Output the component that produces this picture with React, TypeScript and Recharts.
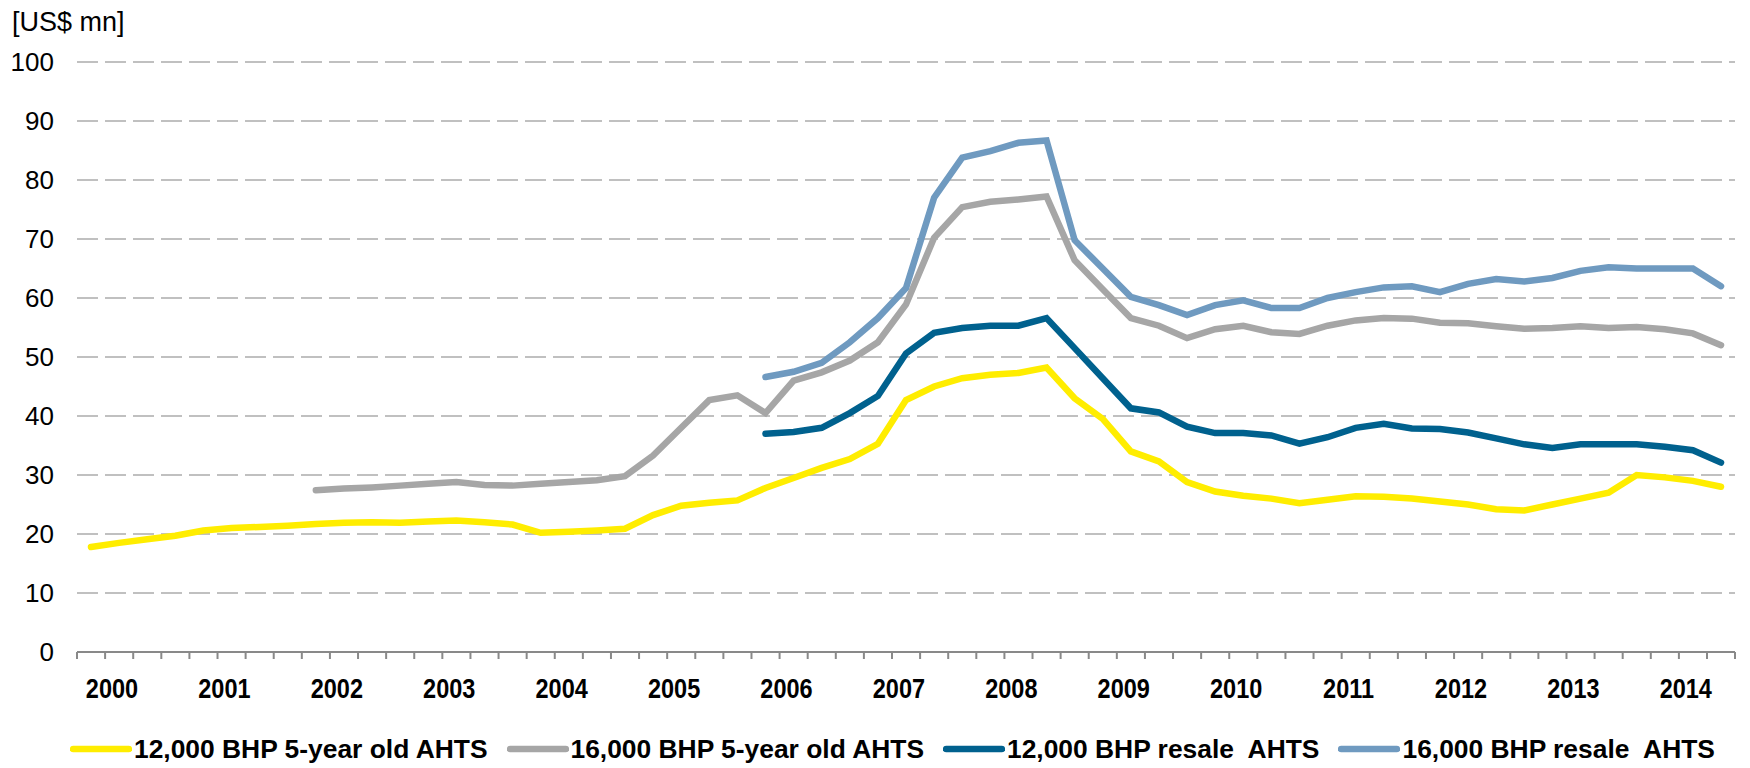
import React from "react";
import { CartesianGrid, Legend, Line, LineChart, XAxis, YAxis } from "recharts";

// quarterly observations, 2000Q1 .. 2014Q3
const periods = [
  "2000Q1", "2000Q2", "2000Q3", "2000Q4", "2001Q1", "2001Q2", "2001Q3", "2001Q4",
  "2002Q1", "2002Q2", "2002Q3", "2002Q4", "2003Q1", "2003Q2", "2003Q3", "2003Q4",
  "2004Q1", "2004Q2", "2004Q3", "2004Q4", "2005Q1", "2005Q2", "2005Q3", "2005Q4",
  "2006Q1", "2006Q2", "2006Q3", "2006Q4", "2007Q1", "2007Q2", "2007Q3", "2007Q4",
  "2008Q1", "2008Q2", "2008Q3", "2008Q4", "2009Q1", "2009Q2", "2009Q3", "2009Q4",
  "2010Q1", "2010Q2", "2010Q3", "2010Q4", "2011Q1", "2011Q2", "2011Q3", "2011Q4",
  "2012Q1", "2012Q2", "2012Q3", "2012Q4", "2013Q1", "2013Q2", "2013Q3", "2013Q4",
  "2014Q1", "2014Q2", "2014Q3",
];

const ahts12k5yr = [
  17.8, 18.5, 19.1, 19.7, 20.6, 21.0, 21.2, 21.4, 21.7, 21.9,
  22.0, 21.9, 22.1, 22.3, 22.0, 21.6, 20.2, 20.4, 20.6, 20.9,
  23.2, 24.8, 25.3, 25.7, 27.8, 29.5, 31.2, 32.7, 35.3, 42.7,
  45.0, 46.4, 47.0, 47.3, 48.2, 43.0, 39.5, 34.0, 32.3, 28.8,
  27.2, 26.5, 26.0, 25.2, 25.8, 26.4, 26.3, 26.0, 25.5, 25.0,
  24.2, 24.0, 25.0, 26.0, 27.0, 30.0, 29.6, 29.0, 28.0,
];

const ahts16k5yr = [
  null, null, null, null, null, null, null, null,
  27.4, 27.7, 27.9, 28.2, 28.5, 28.8, 28.3, 28.2, 28.5, 28.8,
  29.1, 29.8, 33.3, 38.0, 42.7, 43.5, 40.5, 46.0, 47.4, 49.4,
  52.5, 58.9, 70.2, 75.4, 76.3, 76.7, 77.2, 66.4, 61.5, 56.6,
  55.3, 53.2, 54.7, 55.3, 54.2, 53.9, 55.3, 56.2, 56.6, 56.5,
  55.8, 55.7, 55.2, 54.8, 54.9, 55.2, 54.9, 55.1, 54.7, 54.0, 52.0,
];

const ahts12kResale = [
  null, null, null, null, null, null, null, null, null, null, null, null,
  null, null, null, null, null, null, null, null, null, null, null, null,
  37.0, 37.3, 38.0, 40.5, 43.4, 50.6, 54.1, 54.9, 55.3, 55.3,
  56.6, 51.5, 46.4, 41.3, 40.6, 38.2, 37.1, 37.1, 36.7, 35.3,
  36.4, 38.0, 38.7, 37.9, 37.8, 37.2, 36.2, 35.2, 34.6, 35.2,
  35.2, 35.2, 34.8, 34.2, 32.1,
];

const ahts16kResale = [
  null, null, null, null, null, null, null, null, null, null, null, null,
  null, null, null, null, null, null, null, null, null, null, null, null,
  46.6, 47.5, 49.0, 52.5, 56.6, 61.7, 77.0, 83.8, 84.9, 86.3,
  86.7, 69.8, 65.0, 60.2, 58.8, 57.1, 58.8, 59.6, 58.3, 58.3,
  60.0, 61.0, 61.8, 62.0, 61.0, 62.4, 63.2, 62.8, 63.4, 64.6,
  65.2, 65.0, 65.0, 65.0, 62.0,
];

const yTicks = [0, 10, 20, 30, 40, 50, 60, 70, 80, 90, 100];

const SERIES = [
  { key: "ahts12k5yr", name: "12,000 BHP 5-year old AHTS", color: "#FFED00", values: ahts12k5yr },
  { key: "ahts16k5yr", name: "16,000 BHP 5-year old AHTS", color: "#A6A6A6", values: ahts16k5yr },
  { key: "ahts12kResale", name: "12,000 BHP resale  AHTS", color: "#00618E", values: ahts12kResale },
  { key: "ahts16kResale", name: "16,000 BHP resale  AHTS", color: "#6F9AC0", values: ahts16kResale },
];

const data = periods.map((period, i) => {
  const row: Record<string, string | number | null> = { period };
  SERIES.forEach((s) => {
    row[s.key] = s.values[i];
  });
  return row;
});

const FONT = '"Liberation Sans", Arial, sans-serif';
const AXIS_COLOR = "#898989";
const HALF_STEP = 14;

function YearTick(props: any) {
  const { x, y, payload, index } = props;
  const value: string = payload.value;
  const label = value.endsWith("Q1") ? value.slice(0, 4) : "";
  const last = index === periods.length - 1;
  return (
    <g>
      <line x1={x - HALF_STEP} x2={x - HALF_STEP} y1={y} y2={y + 7} stroke={AXIS_COLOR} strokeWidth={2} />
      {last && <line x1={x + HALF_STEP} x2={x + HALF_STEP} y1={y} y2={y + 7} stroke={AXIS_COLOR} strokeWidth={2} />}
      {label && (
        // condensed bold year label
        <text
          transform={`translate(${x + 21},${y + 46}) scale(0.84,1)`}
          textAnchor="middle"
          fontFamily={FONT}
          fontWeight="bold"
          fontSize={28}
          fill="#000"
        >
          {label}
        </text>
      )}
    </g>
  );
}

function LegendRow() {
  return (
    <div
      style={{
        display: "flex",
        alignItems: "center",
        height: 40,
        paddingLeft: 70,
        fontFamily: FONT,
        fontWeight: "bold",
        fontSize: 26.4,
        color: "#000",
        whiteSpace: "pre",
      }}
    >
      {SERIES.map((s) => (
        <div key={s.key} style={{ display: "flex", alignItems: "center", marginRight: 19 }}>
          <svg width={62} height={8}>
            <line x1={3} x2={59} y1={4} y2={4} stroke={s.color} strokeWidth={6.5} strokeLinecap="round" />
          </svg>
          <span style={{ marginLeft: 2 }}>{s.name}</span>
        </div>
      ))}
    </div>
  );
}

export default function App() {
  return (
    <div style={{ position: "absolute", left: 0, top: 0, width: 1750, height: 768, background: "#fff" }}>
      <LineChart width={1750} height={768} data={data} margin={{ top: 62, right: 15, bottom: 20, left: 0 }}>
        <CartesianGrid vertical={false} stroke="#C0C0C0" strokeWidth={2} strokeDasharray="21 7" />
        <XAxis
          dataKey="period"
          interval={0}
          tickLine={false}
          tickSize={0}
          tickMargin={0}
          axisLine={{ stroke: AXIS_COLOR, strokeWidth: 2 }}
          padding={{ left: HALF_STEP, right: HALF_STEP }}
          height={56}
          tick={(p: any) => <YearTick {...p} />}
        />
        <YAxis
          domain={[0, 100]}
          ticks={yTicks}
          width={77}
          axisLine={false}
          tickLine={false}
          tickSize={0}
          tickMargin={23}
          tick={{ fill: "#000", fontSize: 26, fontFamily: FONT }}
          label={{
            content: () => (
              <text x={12} y={31} fontFamily={FONT} fontSize={27} fill="#000">
                [US$ mn]
              </text>
            ),
          }}
        />
        <Legend
          verticalAlign="bottom"
          content={() => <LegendRow />}
          wrapperStyle={{ left: 0, width: 1750, top: 729, bottom: "auto" }}
        />
        {SERIES.map((s) => (
          <Line
            key={s.key}
            type="linear"
            dataKey={s.key}
            name={s.name}
            stroke={s.color}
            strokeWidth={6.5}
            strokeLinecap="round"
            dot={false}
            activeDot={false}
            isAnimationActive={false}
          />
        ))}
      </LineChart>
    </div>
  );
}
